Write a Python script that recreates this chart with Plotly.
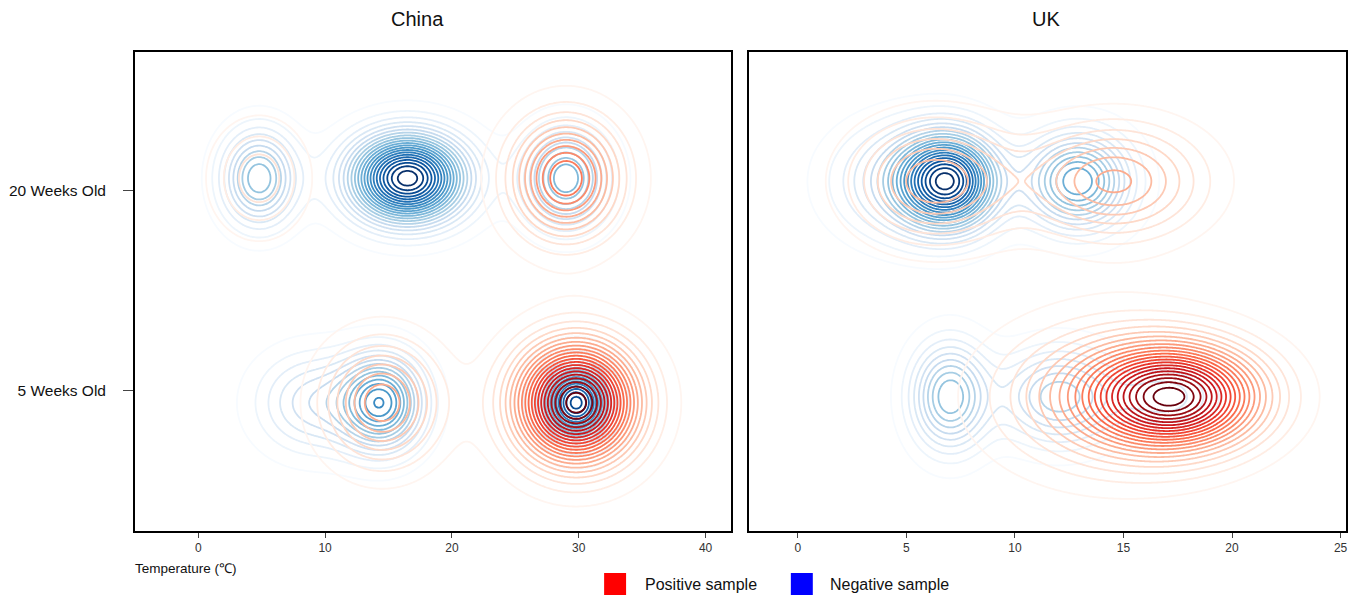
import numpy as np
import plotly.graph_objects as go

# ---------------- data ----------------
age_labels = ["5 Weeks Old", "20 Weeks Old"]
age_values = [0, 1]

china_ticks = [0, 10, 20, 30, 40]
uk_ticks = [0, 5, 10, 15, 20, 25]
china_range = [-5, 42]
uk_range = [-2.25, 25.25]
y_range = [-0.7, 1.69]

# density peaks: temperature centre, temperature spread, age-axis centre, age spread, relative height
china_neg_temp = [4.8, 16.5, 29.0, 9.0, 14.5, 29.8]
china_neg_temp_sd = [2.0, 3.1, 2.2, 3.0, 2.2, 1.9]
china_neg_age = [1.06, 1.06, 1.06, -0.06, -0.06, -0.06]
china_neg_age_sd = [0.16, 0.15, 0.16, 0.17, 0.16, 0.13]
china_neg_height = [0.45, 1.0, 0.5, 0.25, 0.6, 0.9]

china_pos_temp = [4.8, 29.0, 14.5, 29.8]
china_pos_temp_sd = [2.4, 2.9, 3.0, 3.2]
china_pos_age = [1.06, 1.06, -0.06, -0.06]
china_pos_age_sd = [0.18, 0.2, 0.2, 0.2]
china_pos_height = [0.16, 0.5, 0.35, 1.0]

uk_neg_temp = [7.0, 5.0, 12.9, 7.0, 12.0, 17.0]
uk_neg_temp_sd = [1.5, 2.2, 1.6, 1.2, 1.8, 1.8]
uk_neg_age = [1.045, 1.045, 1.045, -0.03, -0.03, -0.03]
uk_neg_age_sd = [0.16, 0.19, 0.16, 0.18, 0.16, 0.13]
uk_neg_height = [0.8, 0.3, 0.55, 0.45, 0.35, 0.2]

uk_pos_temp = [6.3, 14.6, 17.5, 14.5]
uk_pos_temp_sd = [2.5, 2.7, 2.6, 3.6]
uk_pos_age = [1.045, 1.045, -0.03, -0.03]
uk_pos_age_sd = [0.2, 0.19, 0.17, 0.25]
uk_pos_height = [0.32, 0.34, 0.8, 0.3]

n_levels = 21

# ---------------- build figure ----------------
fig = go.Figure()


def density(xs, ys, temp, temp_sd, age, age_sd, height):
    X, Y = np.meshgrid(xs, ys)
    Z = np.zeros_like(X)
    for mx, sx, my, sy, a in zip(temp, temp_sd, age, age_sd, height):
        Z += a * np.exp(-0.5 * ((X - mx) / sx) ** 2 - 0.5 * ((Y - my) / sy) ** 2)
    return Z


def add_contour(xr, temp, temp_sd, age, age_sd, height, cscale, xa, ya, lo=0.035):
    xs = np.linspace(xr[0], xr[1], 400)
    ys = np.linspace(y_range[0], y_range[1], 300)
    Z = density(xs, ys, temp, temp_sd, age, age_sd, height)
    zmax = Z.max()
    start = zmax * lo
    end = zmax * 0.97
    size = (end - start) / (n_levels - 1)
    fig.add_trace(go.Contour(
        x=xs, y=ys, z=Z, xaxis=xa, yaxis=ya,
        contours=dict(coloring="lines", start=start, end=end, size=size),
        colorscale=cscale, zmin=start, zmax=end,
        line=dict(width=1.8), showscale=False, hoverinfo="skip",
    ))


add_contour(china_range, china_neg_temp, china_neg_temp_sd, china_neg_age, china_neg_age_sd,
            china_neg_height, "Blues", "x", "y")
add_contour(china_range, china_pos_temp, china_pos_temp_sd, china_pos_age, china_pos_age_sd,
            china_pos_height, "Reds", "x", "y")
add_contour(uk_range, uk_neg_temp, uk_neg_temp_sd, uk_neg_age, uk_neg_age_sd,
            uk_neg_height, "Blues", "x2", "y2")
add_contour(uk_range, uk_pos_temp, uk_pos_temp_sd, uk_pos_age, uk_pos_age_sd,
            uk_pos_height, "Reds", "x2", "y2", lo=0.042)

# page has an 8px body margin: work in window pixels and convert
OFF = 8
W, H = 1360 - OFF, 595 - OFF


def fx(p):
    return (p - OFF) / W


def fy(p):
    return 1 - (p - OFF) / H


font = "Liberation Sans, Arial, sans-serif"
frame = dict(showline=True, mirror=True, linecolor="black", linewidth=1.5,
             showgrid=False, zeroline=False)
ydom = [fy(531), fy(52)]

fig.update_layout(
    width=W, height=H, margin=dict(l=0, r=0, t=0, b=0),
    plot_bgcolor="white", paper_bgcolor="white", showlegend=False,
    font=dict(family=font, color="#222"),
    xaxis=dict(domain=[fx(135), fx(732)], range=china_range, tickvals=china_ticks,
               ticks="outside", ticklen=5, tickfont=dict(size=12, color="#333"), **frame),
    yaxis=dict(domain=ydom, range=y_range, tickvals=age_values, ticktext=age_labels,
               ticks="outside", ticklen=10, ticklabelstandoff=14,
               tickfont=dict(size=15.5, color="#111"), **frame),
    xaxis2=dict(domain=[fx(750), fx(1348)], range=uk_range, tickvals=uk_ticks, anchor="y2",
                ticks="outside", ticklen=5, tickfont=dict(size=12, color="#333"), **frame),
    yaxis2=dict(domain=ydom, range=y_range, anchor="x2", showticklabels=False, **frame),
)

annotations = [
    dict(text="China", x=fx(418), y=fy(19), font=dict(size=20, color="#111")),
    dict(text="UK", x=fx(1048), y=fy(19), font=dict(size=20, color="#111")),
    dict(text="Temperature (℃)", x=fx(133), y=fy(568), xanchor="left",
         font=dict(size=13.5, color="#111")),
    dict(text="Positive sample", x=fx(644), y=fy(584), xanchor="left",
         font=dict(size=16, color="#111")),
    dict(text="Negative sample", x=fx(829), y=fy(584), xanchor="left",
         font=dict(size=16, color="#111")),
]
for a in annotations:
    a.update(xref="paper", yref="paper", showarrow=False)
    a.setdefault("xanchor", "center")
    a["yanchor"] = "middle"
fig.update_layout(annotations=annotations)

fig.update_layout(shapes=[
    dict(type="rect", xref="paper", yref="paper", x0=fx(605), x1=fx(627),
         y0=fy(597), y1=fy(573), fillcolor="red", line=dict(width=0)),
    dict(type="rect", xref="paper", yref="paper", x0=fx(792), x1=fx(814),
         y0=fy(597), y1=fy(573), fillcolor="blue", line=dict(width=0)),
])

fig.write_html("out.html")
